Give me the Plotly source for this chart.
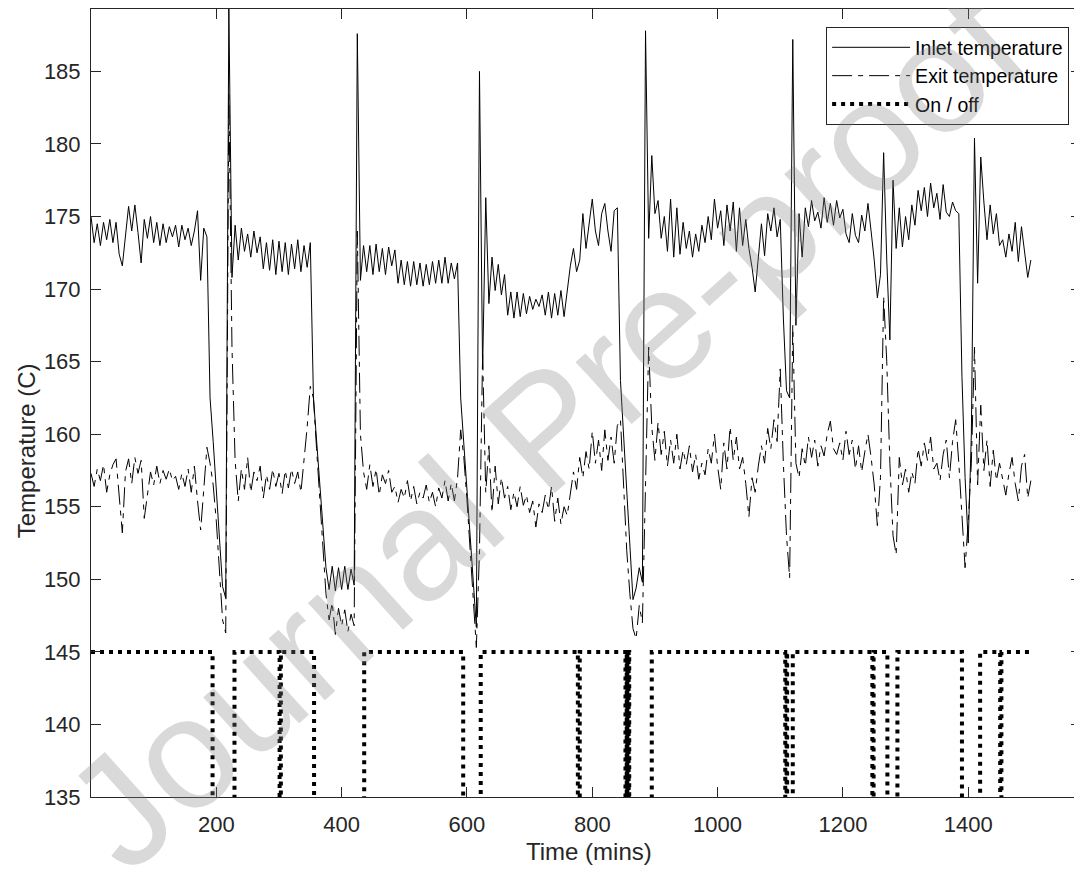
import plotly.graph_objects as go

# time axis: readings every 5 minutes
time_step = 5
time_mins = list(range(0, 1505, time_step))

# inlet temperature (C), one value per 5 min
inlet_temp = [
    175.0, 173.2, 174.5, 173.0, 174.6, 173.4, 174.8, 173.2, 174.6, 172.4,
    171.6, 173.8, 175.7, 174.0, 175.8, 173.9, 171.8, 174.8, 173.5, 175.0,
    173.2, 174.6, 173.0, 174.5, 173.2, 174.3, 173.6, 174.4, 172.9, 174.4,
    173.4, 174.2, 173.0, 174.0, 175.4, 170.6, 174.2, 173.6, 162.5, 159.5,
    156.2, 153.0, 149.5, 148.7, 189.3, 170.8, 174.4, 172.0, 174.2, 172.6,
    173.8, 172.2, 174.0, 172.5, 173.6, 171.4, 173.2, 171.3, 173.4, 171.0,
    173.3, 171.2, 173.2, 171.0, 173.1, 171.4, 173.4, 171.2, 173.0, 171.5,
    173.2, 162.5, 159.5, 156.5, 153.5, 150.8, 149.3, 150.9, 149.2, 150.8,
    149.3, 150.9, 149.3, 150.7, 149.6, 187.6, 170.6, 173.0, 171.2, 173.0,
    171.0, 173.1, 171.2, 172.8, 171.0, 172.9, 171.6, 172.7, 170.4, 172.0,
    170.3, 171.9, 170.2, 171.9, 170.3, 171.8, 170.2, 171.7, 170.3, 171.9,
    170.4, 172.0, 170.4, 172.2, 170.4, 171.8, 170.7, 171.8, 162.5, 159.5,
    156.4, 153.2, 149.9, 146.7, 185.0, 164.5, 176.3, 169.0, 172.2, 169.9,
    171.7, 169.6, 171.0, 168.2, 169.8, 168.0, 169.8, 168.1, 169.7, 168.3,
    169.5, 168.6, 169.3, 168.8, 169.6, 168.2, 169.8, 168.0, 169.7, 168.2,
    169.9, 168.1, 170.0, 171.6, 172.8, 171.2, 172.0, 175.2, 172.8, 174.6,
    176.2, 174.0, 173.0, 175.2, 175.9, 174.0, 172.6, 175.4, 175.6, 163.7,
    160.0, 156.0, 152.0, 148.6, 149.4, 150.8, 149.8, 187.8, 173.5, 179.2,
    175.2, 176.1, 173.5, 175.0, 172.6, 176.2, 172.2, 175.6, 172.4, 174.6,
    172.8, 174.0, 172.2, 173.8, 172.6, 174.4, 173.2, 175.0, 173.4, 176.2,
    174.2, 175.4, 173.0, 175.8, 174.0, 176.0, 172.6, 175.6, 173.0, 174.8,
    172.8, 171.5, 169.8, 172.0, 174.5, 172.3, 175.2, 174.0, 175.6, 173.6,
    174.8, 168.0, 163.0, 162.5, 187.2, 167.5, 175.2, 172.2, 175.6, 174.3,
    176.1, 174.7, 175.3, 174.2, 176.3, 174.6, 175.9, 174.4, 176.1, 174.9,
    175.5, 173.8, 173.2, 175.2, 173.7, 173.2, 175.1, 174.0, 175.9, 174.0,
    172.0, 169.4, 171.0, 179.4, 172.0, 166.5, 177.5, 172.8, 175.6, 172.9,
    175.0, 173.4, 175.8, 174.4, 176.8, 175.4, 177.0, 175.0, 177.3, 175.6,
    176.6, 174.8, 177.2, 175.3, 175.0, 176.0, 175.4, 175.2, 164.0, 157.0,
    152.5, 160.0, 180.4, 170.4, 179.1, 176.0, 173.4, 175.8, 173.8, 175.2,
    173.0, 173.4, 172.2, 173.8, 172.6, 174.6, 171.9, 174.3, 172.5, 170.8,
    172.0,
]

# exit temperature (C), one value per 5 min
exit_temp = [
    157.3, 156.4, 157.6, 156.8, 157.9, 156.0, 157.2, 157.9, 158.3, 155.8,
    153.2, 157.4, 158.3, 156.6, 158.4, 157.3, 158.2, 154.2, 156.0, 157.4,
    156.5, 157.8, 156.6, 157.5, 156.9, 157.6, 156.8, 157.1, 156.2, 157.3,
    156.4, 157.6, 156.0, 157.8, 155.4, 153.4, 156.2, 159.1, 158.0, 156.5,
    154.0, 150.5, 147.2, 146.3, 183.5, 166.0, 158.2, 155.4, 157.6, 156.2,
    158.4, 156.0, 157.4, 156.8, 157.8, 155.6, 157.2, 156.2, 157.6, 156.4,
    157.3, 155.9, 157.5, 156.3, 157.6, 156.6, 157.4, 156.0, 158.2, 160.5,
    163.3, 162.5, 159.0, 155.5, 152.0, 149.0, 147.2, 148.4, 146.2, 148.0,
    146.8, 147.9, 146.4, 147.6, 146.8, 174.0, 160.0, 157.4, 156.2, 157.9,
    156.4, 157.6, 155.8, 157.2, 156.6, 157.5, 156.0, 156.4, 155.3, 156.2,
    155.6, 156.8, 155.4, 156.4, 155.2, 156.0, 155.6, 156.5, 155.3, 156.0,
    155.0, 156.3, 155.6, 156.8, 155.4, 156.6, 155.4, 157.0, 160.3, 158.4,
    155.5, 152.0, 148.5, 145.3, 152.0, 165.5, 156.0, 159.2, 154.6, 157.8,
    155.2, 157.0, 155.6, 156.4, 154.8, 156.0, 155.0, 156.4, 155.1, 155.8,
    154.6, 155.4, 153.6, 155.2, 154.6, 155.8, 154.8, 156.4, 154.0, 155.6,
    153.8, 155.0, 154.4, 156.0, 157.4, 156.2, 158.4, 157.0, 158.8, 157.6,
    160.2, 158.0, 159.6, 157.5, 160.3, 158.2, 159.8, 158.0, 160.6, 161.0,
    156.0, 152.0, 149.0, 146.6, 145.9, 148.2, 147.0, 156.0, 166.0, 160.5,
    158.2, 160.8, 158.6, 160.2, 157.8, 159.6, 158.0, 160.0, 157.6, 158.9,
    157.9, 159.2, 157.4, 158.6, 156.9, 158.0, 157.2, 159.0, 158.0, 160.0,
    157.8, 156.2, 159.4, 157.6, 160.5, 158.2, 159.8, 157.6, 158.4, 156.6,
    154.3, 157.0, 156.0, 157.8, 159.2, 158.0, 160.4, 159.0, 161.0, 159.5,
    164.5, 158.0, 153.0, 150.1, 167.5, 158.0, 157.0, 159.0, 157.8, 159.8,
    158.4, 159.6, 157.8, 159.2, 158.5, 160.0, 160.9, 159.0, 158.6, 159.4,
    158.2, 160.2, 158.6, 159.6, 157.6, 159.2, 157.4, 158.8, 160.0, 158.4,
    156.5, 153.7, 157.0, 169.5, 165.0, 158.0, 153.0, 151.7, 158.4, 156.5,
    157.6, 156.0, 157.4, 156.6, 159.0, 157.8, 159.4, 158.2, 159.8, 157.6,
    158.0, 156.8, 158.6, 159.6, 157.0, 159.5, 161.0, 158.0, 154.0, 150.8,
    154.0, 158.0, 166.0, 156.5, 162.0, 157.5, 159.6, 156.4, 158.9, 156.8,
    158.0, 156.9, 155.8, 157.3, 158.4, 156.6, 155.4, 157.8, 158.6, 155.6,
    156.8,
]

# heater on / off: on level and the periods it was switched off (mins)
on_level = 145
off_level = 130
off_start = [194, 301, 356, 594, 777, 853, 856, 859, 1108, 1111, 1247, 1271, 1390, 1451]
off_end = [229, 303, 436, 622, 780, 855, 858, 895, 1110, 1120, 1249, 1287, 1419, 1453]
run_end = 1500

onoff_t = [0]
onoff_v = [on_level]
for s, e in zip(off_start, off_end):
    onoff_t += [s, s, e, e]
    onoff_v += [on_level, off_level, off_level, on_level]
onoff_t.append(run_end)
onoff_v.append(on_level)

axis_col = "#262626"
font_fam = "Liberation Sans, Arial, sans-serif"

fig = go.Figure()
fig.add_trace(go.Scatter(x=time_mins, y=inlet_temp, mode="lines", name="Inlet temperature",
                         line=dict(color="black", width=1)))
fig.add_trace(go.Scatter(x=time_mins, y=exit_temp, mode="lines", name="Exit temperature",
                         line=dict(color="black", width=1, dash="20px,6px,5px,6px")))
fig.add_trace(go.Scatter(x=onoff_t, y=onoff_v, mode="lines", name="On / off",
                         line=dict(color="black", width=4, dash="4px,5px")))

# the page body adds 8px round the figure, so the figure is 8px smaller
fig.update_layout(
    width=1074, height=864,
    margin=dict(l=83, r=1, t=1, b=75),
    plot_bgcolor="white", paper_bgcolor="white",
    font=dict(family=font_fam, size=22, color=axis_col),
    showlegend=True,
    legend=dict(x=0.988, y=0.977, xanchor="right", yanchor="top",
                bgcolor="white", bordercolor=axis_col, borderwidth=1,
                font=dict(size=19.5, color="black"), itemwidth=78, tracegroupgap=0),
)
fig.update_xaxes(range=[0, 1580], tickvals=[200, 400, 600, 800, 1000, 1200, 1400],
                 ticks="inside", ticklen=10, tickcolor=axis_col, showline=True,
                 linecolor=axis_col, linewidth=1, mirror="ticks", showgrid=False,
                 zeroline=False, ticklabelstandoff=8)
fig.update_yaxes(range=[135, 189.3], tick0=135, dtick=5,
                 ticks="inside", ticklen=10, tickcolor=axis_col, showline=True,
                 linecolor=axis_col, linewidth=1, mirror="ticks", showgrid=False,
                 zeroline=False, ticklabelstandoff=5)

# axis titles
fig.add_annotation(text="Time (mins)", xref="paper", yref="paper", x=0.503, y=-0.0697,
                   xanchor="center", yanchor="middle",
                   showarrow=False, font=dict(size=24, color=axis_col))
fig.add_annotation(text="Temperature (C)", xref="paper", yref="paper", x=-0.0657, y=0.44,
                   xanchor="center", yanchor="middle",
                   textangle=-90, showarrow=False, font=dict(size=24, color=axis_col))

# watermark
fig.add_annotation(text="Journal Pre-proof", xref="paper", yref="paper", x=0.4586, y=0.4677,
                   xanchor="center", yanchor="middle", textangle=-42, showarrow=False,
                   font=dict(size=158, color="rgba(128,128,128,0.3)", family=font_fam))

fig.write_html("out.html")
